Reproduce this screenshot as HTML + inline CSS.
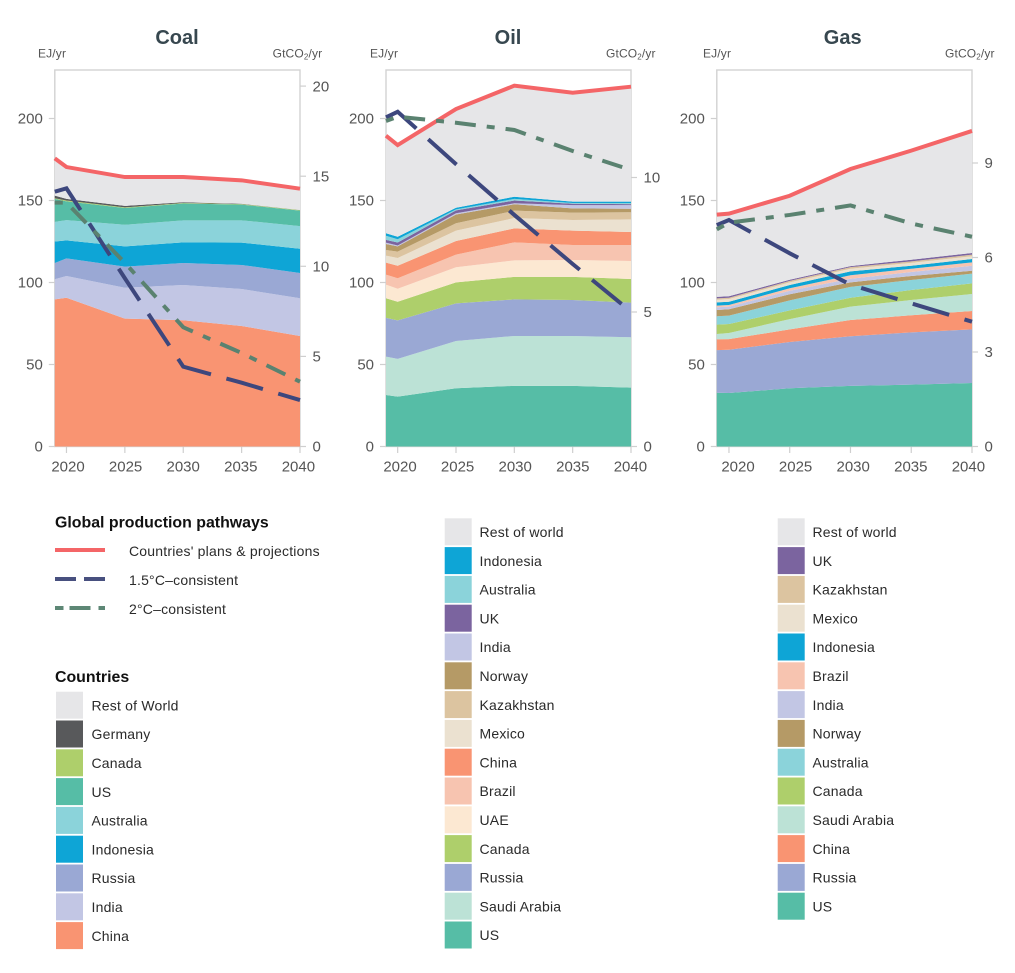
<!DOCTYPE html>
<html lang="en">
<head>
<meta charset="utf-8">
<title>Global production pathways: Coal, Oil, Gas</title>
<style>
html,body{margin:0;padding:0;background:#fff}
svg{display:block;font-family:"Liberation Sans",sans-serif}
.title{font-size:20px;font-weight:700;fill:#37474f;text-anchor:middle}
.unit{font-size:12px;fill:#555;letter-spacing:.15px}
.tick{font-size:15px;fill:#555}
.lh{font-size:15.9px;font-weight:700;fill:#111}
.lt{font-size:14px;fill:#2a2a2a;letter-spacing:.2px}
</style>
</head>
<body>
<svg id="chart" width="1015" height="973" viewBox="0 0 1015 973" xmlns="http://www.w3.org/2000/svg">
<g id="panels"></g>

<g>
<text class="lh" x="55" y="527.3">Global production pathways</text>
<line x1="55" x2="105" y1="550" y2="550" stroke="#f46567" stroke-width="4"/>
<text class="lt" x="129" y="556">Countries' plans &amp; projections</text>
<line x1="55" x2="105" y1="579" y2="579" stroke="#48507f" stroke-width="4" stroke-dasharray="21 8"/>
<text class="lt" x="129" y="585">1.5°C–consistent</text>
<line x1="55" x2="105" y1="608" y2="608" stroke="#5d8775" stroke-width="4" stroke-dasharray="8.5 6 21 8"/>
<text class="lt" x="129" y="614">2°C–consistent</text>
</g>

<g>
<text class="lh" x="55" y="681.8">Countries</text>
<g><rect x="56" y="691.7" width="27" height="27" fill="#e6e6e8"/><text class="lt" x="91.5" y="710.4">Rest of World</text></g>
<g><rect x="56" y="720.5" width="27" height="27" fill="#58595b"/><text class="lt" x="91.5" y="739.2">Germany</text></g>
<g><rect x="56" y="749.3" width="27" height="27" fill="#aecf6b"/><text class="lt" x="91.5" y="768">Canada</text></g>
<g><rect x="56" y="778.1" width="27" height="27" fill="#56bda6"/><text class="lt" x="91.5" y="796.8">US</text></g>
<g><rect x="56" y="806.9" width="27" height="27" fill="#8bd3da"/><text class="lt" x="91.5" y="825.6">Australia</text></g>
<g><rect x="56" y="835.7" width="27" height="27" fill="#0ea5d6"/><text class="lt" x="91.5" y="854.4">Indonesia</text></g>
<g><rect x="56" y="864.5" width="27" height="27" fill="#9aa8d4"/><text class="lt" x="91.5" y="883.2">Russia</text></g>
<g><rect x="56" y="893.3" width="27" height="27" fill="#c2c6e4"/><text class="lt" x="91.5" y="912">India</text></g>
<g><rect x="56" y="922.1" width="27" height="27" fill="#f99472"/><text class="lt" x="91.5" y="940.8">China</text></g>
</g>

<g>
<g><rect x="444.7" y="518.3" width="27" height="27" fill="#e6e6e8"/><text class="lt" x="479.5" y="537">Rest of world</text></g>
<g><rect x="444.7" y="547.1" width="27" height="27" fill="#0ea5d6"/><text class="lt" x="479.5" y="565.8">Indonesia</text></g>
<g><rect x="444.7" y="575.9" width="27" height="27" fill="#8bd3da"/><text class="lt" x="479.5" y="594.6">Australia</text></g>
<g><rect x="444.7" y="604.7" width="27" height="27" fill="#7b649f"/><text class="lt" x="479.5" y="623.4">UK</text></g>
<g><rect x="444.7" y="633.5" width="27" height="27" fill="#c2c6e4"/><text class="lt" x="479.5" y="652.2">India</text></g>
<g><rect x="444.7" y="662.3" width="27" height="27" fill="#b59a66"/><text class="lt" x="479.5" y="681">Norway</text></g>
<g><rect x="444.7" y="691.1" width="27" height="27" fill="#dcc4a0"/><text class="lt" x="479.5" y="709.8">Kazakhstan</text></g>
<g><rect x="444.7" y="719.9" width="27" height="27" fill="#ebe1d0"/><text class="lt" x="479.5" y="738.6">Mexico</text></g>
<g><rect x="444.7" y="748.7" width="27" height="27" fill="#f99472"/><text class="lt" x="479.5" y="767.4">China</text></g>
<g><rect x="444.7" y="777.5" width="27" height="27" fill="#f7c4b0"/><text class="lt" x="479.5" y="796.2">Brazil</text></g>
<g><rect x="444.7" y="806.3" width="27" height="27" fill="#fce8d2"/><text class="lt" x="479.5" y="825">UAE</text></g>
<g><rect x="444.7" y="835.1" width="27" height="27" fill="#aecf6b"/><text class="lt" x="479.5" y="853.8">Canada</text></g>
<g><rect x="444.7" y="863.9" width="27" height="27" fill="#9aa8d4"/><text class="lt" x="479.5" y="882.6">Russia</text></g>
<g><rect x="444.7" y="892.7" width="27" height="27" fill="#bce2d6"/><text class="lt" x="479.5" y="911.4">Saudi Arabia</text></g>
<g><rect x="444.7" y="921.5" width="27" height="27" fill="#56bda6"/><text class="lt" x="479.5" y="940.2">US</text></g>
</g>

<g>
<g><rect x="777.7" y="518.3" width="27" height="27" fill="#e6e6e8"/><text class="lt" x="812.5" y="537">Rest of world</text></g>
<g><rect x="777.7" y="547.1" width="27" height="27" fill="#7b649f"/><text class="lt" x="812.5" y="565.8">UK</text></g>
<g><rect x="777.7" y="575.9" width="27" height="27" fill="#dcc4a0"/><text class="lt" x="812.5" y="594.6">Kazakhstan</text></g>
<g><rect x="777.7" y="604.7" width="27" height="27" fill="#ebe1d0"/><text class="lt" x="812.5" y="623.4">Mexico</text></g>
<g><rect x="777.7" y="633.5" width="27" height="27" fill="#0ea5d6"/><text class="lt" x="812.5" y="652.2">Indonesia</text></g>
<g><rect x="777.7" y="662.3" width="27" height="27" fill="#f7c4b0"/><text class="lt" x="812.5" y="681">Brazil</text></g>
<g><rect x="777.7" y="691.1" width="27" height="27" fill="#c2c6e4"/><text class="lt" x="812.5" y="709.8">India</text></g>
<g><rect x="777.7" y="719.9" width="27" height="27" fill="#b59a66"/><text class="lt" x="812.5" y="738.6">Norway</text></g>
<g><rect x="777.7" y="748.7" width="27" height="27" fill="#8bd3da"/><text class="lt" x="812.5" y="767.4">Australia</text></g>
<g><rect x="777.7" y="777.5" width="27" height="27" fill="#aecf6b"/><text class="lt" x="812.5" y="796.2">Canada</text></g>
<g><rect x="777.7" y="806.3" width="27" height="27" fill="#bce2d6"/><text class="lt" x="812.5" y="825">Saudi Arabia</text></g>
<g><rect x="777.7" y="835.1" width="27" height="27" fill="#f99472"/><text class="lt" x="812.5" y="853.8">China</text></g>
<g><rect x="777.7" y="863.9" width="27" height="27" fill="#9aa8d4"/><text class="lt" x="812.5" y="882.6">Russia</text></g>
<g><rect x="777.7" y="892.7" width="27" height="27" fill="#56bda6"/><text class="lt" x="812.5" y="911.4">US</text></g>
</g>
</svg>

<script>
// ---- Shared categories and tick labels ----
const years = [2019, 2020, 2025, 2030, 2035, 2040];
const xTickYears = [2020, 2025, 2030, 2035, 2040];
const ejTicks = [0, 50, 100, 150, 200];
const coalCo2Ticks = [0, 5, 10, 15, 20];
const oilCo2Ticks = [0, 5, 10];
const gasCo2Ticks = [0, 3, 6, 9];

// ---- Coal: stacked layers (EJ/yr), bottom to top ----
const coalChina = [89.7, 90.7, 78, 77, 73.5, 67.4];
const coalIndia = [12.3, 13.3, 18.8, 21.5, 22.5, 23];
const coalRussia = [9.9, 10.7, 12.9, 13.4, 14.7, 15.4];
const coalIndonesia = [13.1, 11, 12.3, 12.6, 13.6, 14.8];
const coalAustralia = [12, 12.3, 13.2, 13.4, 13.6, 13.8];
const coalUS = [14, 11.5, 10.2, 10.3, 9.6, 9.4];
const coalCanada = [0.4, 0.5, 0.4, 0.3, 0.3, 0.3];
const coalGermany = [1.6, 1, 0.9, 0.4, 0.2, 0.1];
const coalRest = [22.7, 19.4, 17.6, 15.4, 14.3, 13];
const coal15 = [155.4, 157.4, 102.6, 48.7, 38.9, 28.3];
const coal2 = [148.7, 148.7, 112, 72.7, 57, 39.5];

// ---- Oil: stacked layers (EJ/yr), bottom to top ----
const oilUS = [31.4, 30.4, 35.5, 37, 37, 35.9];
const oilSaudi = [23.4, 23, 28.8, 30.4, 30.4, 30.7];
const oilRussia = [23.6, 23.5, 23, 22.3, 21.9, 21.1];
const oilCanada = [12, 11.4, 12.8, 13.7, 14.1, 14.4];
const oilUAE = [8.3, 7.9, 9.2, 10.1, 10.3, 11];
const oilBrazil = [6.1, 6.4, 7.7, 11, 9.2, 9.8];
const oilChina = [7.3, 7.6, 8.3, 8.5, 8.7, 7.9];
const oilMexico = [4.3, 4.7, 6.3, 6.3, 6.5, 7.7];
const oilKazakhstan = [3.4, 3.9, 4.5, 4.5, 4.5, 4.3];
const oilNorway = [3.7, 3.2, 5.4, 3.9, 2.6, 2.2];
const oilIndia = [0.8, 0.6, 0.7, 0.6, 2, 2.2];
const oilUK = [1.7, 1.8, 1.8, 1.7, 0.8, 0.6];
const oilAustralia = [2.5, 2, 0.6, 1, 0.5, 0.7];
const oilIndonesia = [1.5, 1.5, 1, 1.3, 0.8, 0.8];
const oilRest = [59.5, 55.9, 60.2, 67.7, 66.4, 70.1];
const oil15 = [200.7, 204.1, 172.2, 141.2, 111.3, 82.2];
const oil2 = [198.5, 201.1, 197.4, 193, 180.2, 168.6];

// ---- Gas: stacked layers (EJ/yr), bottom to top ----
const gasUS = [32.8, 32.6, 35.5, 37, 37.7, 38.7];
const gasRussia = [26, 26.4, 28.2, 30.2, 31.9, 32.7];
const gasChina = [6.6, 6.5, 7.7, 9.9, 10.4, 11.2];
const gasSaudi = [3.2, 3.7, 6.3, 8.2, 9.3, 10.4];
const gasCanada = [5.7, 5.5, 5.3, 5.4, 6.1, 6.5];
const gasAustralia = [5.1, 5.1, 6.1, 6.6, 6.1, 5.9];
const gasNorway = [3.8, 3.9, 3.7, 2.8, 2.5, 1.8];
const gasIndia = [1.7, 1.6, 2.2, 2.2, 2.4, 3];
const gasBrazil = [1, 1, 1.5, 2.1, 2, 2.1];
const gasIndonesia = [2, 2, 2, 2.4, 1.8, 2];
const gasMexico = [1.6, 1.6, 1.6, 1.6, 1.8, 1.7];
const gasKazakhstan = [0.8, 0.8, 0.9, 1, 0.9, 1];
const gasUK = [0.9, 0.9, 0.7, 0.6, 1, 1];
const gasRest = [50.2, 50.4, 51.2, 59.2, 66.5, 74.4];
const gas15 = [135, 138.1, 117.8, 98.7, 87.3, 76.1];
const gas2 = [132.4, 136.5, 141.2, 147, 136, 127.9];

const COLORS = {rest:'#e6e6e8',germany:'#58595b',canada:'#aecf6b',us:'#56bda6',australia:'#8bd3da',indonesia:'#0ea5d6',russia:'#9aa8d4',india:'#c2c6e4',china:'#f99472',uk:'#7b649f',norway:'#b59a66',kazakhstan:'#dcc4a0',mexico:'#ebe1d0',brazil:'#f7c4b0',uae:'#fce8d2',saudi:'#bce2d6'};

const panels = [
  {name:'coal', title:'Coal', cx:177, left:54.8, right:300, ejLabelX:38, co2LabelX:272.6, co2PerPx:18.02, labelStart:68, co2Ticks:coalCo2Ticks, pathway15:coal15, pathway2:coal2,
   layers:[['china',coalChina],['india',coalIndia],['russia',coalRussia],['indonesia',coalIndonesia],['australia',coalAustralia],['us',coalUS],['canada',coalCanada],['germany',coalGermany],['rest',coalRest]]},
  {name:'oil', title:'Oil', cx:508, left:386, right:631, ejLabelX:370, co2LabelX:606, co2PerPx:26.9, labelStart:400, co2Ticks:oilCo2Ticks, pathway15:oil15, pathway2:oil2,
   layers:[['us',oilUS],['saudi',oilSaudi],['russia',oilRussia],['canada',oilCanada],['uae',oilUAE],['brazil',oilBrazil],['china',oilChina],['mexico',oilMexico],['kazakhstan',oilKazakhstan],['norway',oilNorway],['india',oilIndia],['uk',oilUK],['australia',oilAustralia],['indonesia',oilIndonesia],['rest',oilRest]]},
  {name:'gas', title:'Gas', cx:842.7, left:716.8, right:972, ejLabelX:703, co2LabelX:945, co2PerPx:31.5, labelStart:738, co2Ticks:gasCo2Ticks, pathway15:gas15, pathway2:gas2,
   layers:[['us',gasUS],['russia',gasRussia],['china',gasChina],['saudi',gasSaudi],['canada',gasCanada],['australia',gasAustralia],['norway',gasNorway],['india',gasIndia],['brazil',gasBrazil],['indonesia',gasIndonesia],['mexico',gasMexico],['kazakhstan',gasKazakhstan],['uk',gasUK],['rest',gasRest]]}
];

const SVGNS = 'http://www.w3.org/2000/svg';
const Y0 = 446.5, YTOP = 70, EJ_PX = 1.64;
const yEJ = function (v) { return Y0 - v * EJ_PX; };
const root = document.getElementById('panels');

function make(parent, tag, attrs, text) {
  const el = document.createElementNS(SVGNS, tag);
  for (const k in attrs) el.setAttribute(k, attrs[k]);
  if (text !== undefined) el.textContent = text;
  parent.appendChild(el);
  return el;
}

function drawPanel(p) {
  const xScale = function (yr) { return p.right - (2040 - yr) * (p.right - p.left) / 21; };
  const yCO2 = function (v) { return Y0 - v * p.co2PerPx; };
  const g = make(root, 'g', {});
  
  

  const title = make(g, 'text', {class:'title', x:p.cx, y:44}, p.title);
  
  

  const ejUnit = make(g, 'text', {class:'unit', x:p.ejLabelX, y:57.5}, 'EJ/yr');
  
  

  const co2Unit = make(g, 'text', {class:'unit', x:p.co2LabelX, y:57.5}, 'GtCO');
  
  
  make(co2Unit, 'tspan', {'font-size':8, dy:2}, '2');
  make(co2Unit, 'tspan', {dy:-2}, '/yr');

  const frame = make(g, 'rect', {x:p.left, y:YTOP, width:p.right - p.left, height:Y0 - YTOP, fill:'#fff', stroke:'#d2d2d2', 'stroke-width':1.4});
  
  

  // stacked areas
  const base = years.map(function () { return 0; });
  p.layers.forEach(function (layer) {
    const top = base.map(function (b, i) { return b + layer[1][i]; });
    let d = '';
    years.forEach(function (yr, i) { d += (i ? 'L' : 'M') + xScale(yr).toFixed(2) + ' ' + yEJ(top[i]).toFixed(2); });
    for (let i = years.length - 1; i >= 0; i--) d += 'L' + xScale(years[i]).toFixed(2) + ' ' + yEJ(base[i]).toFixed(2);
    const area = make(g, 'path', {d:d + 'Z', fill:COLORS[layer[0]]});
    
    
    top.forEach(function (t, i) { base[i] = t; });
  });

  // left ticks
  ejTicks.forEach(function (v) {
    const y = yEJ(v);
    const tk = make(g, 'line', {x1:p.left - 6, x2:p.left, y1:y, y2:y, stroke:'#cfcfcf', 'stroke-width':1.2});
    
    
    const lb = make(g, 'text', {class:'tick', x:p.left - 12, y:y + 5.2, 'text-anchor':'end'}, String(v));
    
    
  });

  // right ticks
  p.co2Ticks.forEach(function (v) {
    const y = yCO2(v);
    const tk = make(g, 'line', {x1:p.right, x2:p.right + 6, y1:y, y2:y, stroke:'#cfcfcf', 'stroke-width':1.2});
    
    
    const lb = make(g, 'text', {class:'tick', x:p.right + 12.5, y:y + 5.2}, String(v));
    
    
  });

  // x ticks
  xTickYears.forEach(function (yr, i) {
    const x = xScale(yr);
    const tk = make(g, 'line', {x1:x, x2:x, y1:Y0, y2:Y0 + 6.5, stroke:'#cfcfcf', 'stroke-width':1.2});
    
    
    const lb = make(g, 'text', {class:'tick', x:p.labelStart + i * 57.6, y:471.5, 'text-anchor':'middle'}, String(yr));
    
    
  });

  const linePath = function (vals) {
    return years.map(function (yr, i) { return (i ? 'L' : 'M') + xScale(yr).toFixed(2) + ' ' + yEJ(vals[i]).toFixed(2); }).join('');
  };

  // plans line follows the top of the stack
  const plans = make(g, 'path', {d:linePath(base), fill:'none', stroke:'#f46567', 'stroke-width':4, 'stroke-linejoin':'miter'});
  
  

  const l15 = make(g, 'path', {d:linePath(p.pathway15), fill:'none', stroke:'#3d477d', 'stroke-width':4, 'stroke-dasharray':'38 16'});
  
  

  const l2 = make(g, 'path', {d:linePath(p.pathway2), fill:'none', stroke:'#5a8270', 'stroke-width':4, 'stroke-dasharray':'8 11 21 11'});
  
  
}

panels.forEach(drawPanel);
</script>
</body>
</html>
